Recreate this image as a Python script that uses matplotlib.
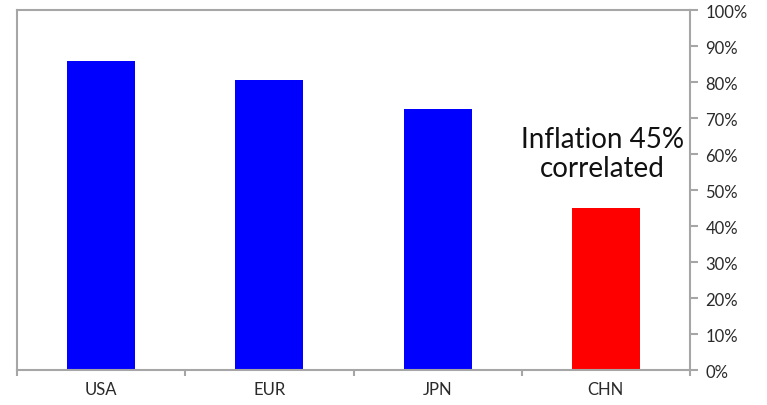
import matplotlib.pyplot as plt
import numpy as np
from matplotlib.ticker import FixedLocator, PercentFormatter

# share of equity moves correlated with inflation, by region
regions = ["USA", "EUR", "JPN", "CHN"]
correlation = [85.8, 80.5, 72.4, 45]
bar_colors = ["#0000ff", "#0000ff", "#0000ff", "#ff0000"]
y_ticks = [0, 10, 20, 30, 40, 50, 60, 70, 80, 90, 100]

plt.rcParams["font.family"] = ["Lato", "DejaVu Sans"]
grey = "#a6a6a6"

fig = plt.figure(figsize=(7.67, 4.06), dpi=100)
ax = fig.add_axes([0.0222, 0.0862, 0.8774, 0.8867])

x = np.arange(len(regions))
ax.bar(x, correlation, width=0.405, color=bar_colors, zorder=2)

ax.set_xlim(-0.5, len(regions) - 0.5)
ax.set_ylim(0, 100)

# categories under the bars, short ticks on the boundaries
ax.set_xticks(x)
ax.set_xticklabels(regions, fontsize=12, color="#2a2a2a")
ax.tick_params(axis="x", which="major", length=0, pad=8)
ax.xaxis.set_minor_locator(FixedLocator(np.arange(-0.5, len(regions), 1)))
ax.tick_params(axis="x", which="minor", length=4, width=1.5, color=grey, direction="out")

ax.yaxis.tick_right()
ax.set_yticks(y_ticks)
ax.yaxis.set_major_formatter(PercentFormatter(decimals=0))
ax.tick_params(axis="y", length=6, width=1.5, color=grey, labelsize=12,
               labelcolor="#2a2a2a", pad=5)

for s in ax.spines.values():
    s.set_color(grey)
    s.set_linewidth(1.5)

ax.text(3 - 0.02, 52.5, "Inflation 45%\ncorrelated", ha="center", va="bottom",
        fontsize=20, color="#111111", linespacing=1.15)

fig.savefig("out.png", dpi=100)
